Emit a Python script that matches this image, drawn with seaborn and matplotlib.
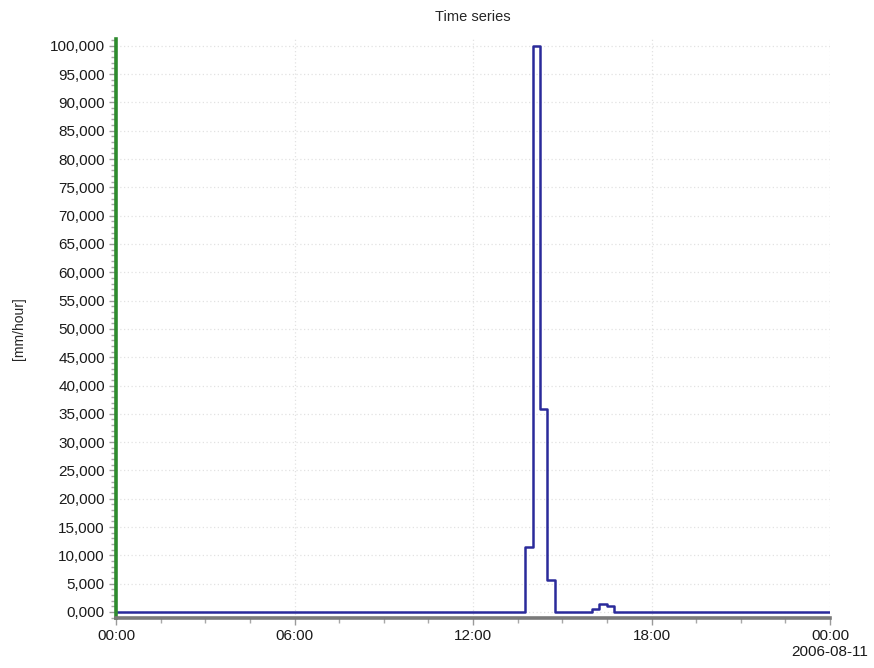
import matplotlib
matplotlib.use("Agg")
import matplotlib.pyplot as plt
import matplotlib.dates as mdates
import matplotlib.ticker as mticker
import numpy as np
import pandas as pd
import seaborn as sns

# Data: rainfall intensity [mm/hour], 15-min step series on 2006-08-10
times = ["2006-08-10 00:00", "2006-08-10 13:45", "2006-08-10 14:00", "2006-08-10 14:15",
         "2006-08-10 14:30", "2006-08-10 14:45", "2006-08-10 16:00", "2006-08-10 16:15",
         "2006-08-10 16:30", "2006-08-10 16:45", "2006-08-11 00:00"]
values = [0.0, 11.5, 100.0, 35.9, 5.6, 0.0, 0.5, 1.4, 1.1, 0.0, 0.0]
x_tick_labels = ["00:00", "06:00", "12:00", "18:00", "00:00\n2006-08-11"]

df = pd.DataFrame({"time": pd.to_datetime(times), "value": values})

sns.set_style("white")
plt.rcParams['font.family'] = ['Liberation Sans', 'DejaVu Sans']

fig = plt.figure(figsize=(8.74, 6.68), dpi=100)
ax = fig.add_axes([116/874, 1 - 618/668, (830-116)/874, (618-39)/668])

sns.lineplot(data=df, x="time", y="value", ax=ax, drawstyle="steps-post",
             color="#2a2a9a", linewidth=1.8)

start = pd.Timestamp("2006-08-10 00:00")
end = pd.Timestamp("2006-08-11 00:00")
ax.set_xlim(start, end)
ax.set_ylim(-1.06, 101.2)

xt = pd.date_range(start, end, freq="6h")
ax.set_xticks(mdates.date2num(xt))
ax.set_xticklabels(x_tick_labels)
ax.set_xticks(mdates.date2num(pd.date_range(start, end, freq="90min")), minor=True)

ax.yaxis.set_major_locator(mticker.MultipleLocator(5))
ax.yaxis.set_minor_locator(mticker.MultipleLocator(1))
ax.yaxis.set_major_formatter(mticker.FuncFormatter(lambda v, p: f"{v:,.3f}".replace('.', ',') if v >= 0 else ""))

ax.grid(True, which="major", linestyle=(0, (1, 2)), color="#e2e2e2", linewidth=0.9)
ax.set_axisbelow(True)

for s in ["top", "right"]:
    ax.spines[s].set_visible(False)
ax.spines["left"].set_color("#2e8b2e")
ax.spines["left"].set_linewidth(2.6)
ax.spines["bottom"].set_color("#7a7a7a")
ax.spines["bottom"].set_linewidth(2.6)

ax.tick_params(axis="both", which="both", left=True, bottom=True, direction="out")
ax.tick_params(axis="both", which="major", length=5, width=1, color="#9a9a9a",
               labelsize=11, labelcolor="#1a1a1a", pad=3)
ax.tick_params(axis="both", which="minor", length=3.5, width=1, color="#a8a8a8")

ax.set_xlabel("")
ax.set_ylabel("[mm/hour]", fontsize=10, labelpad=17)
ax.set_title("Time series", fontsize=10.5, pad=13)

labels = ax.get_xticklabels()
labels[-1].set_horizontalalignment("center")

fig.savefig("out.png", dpi=100, facecolor="white")
